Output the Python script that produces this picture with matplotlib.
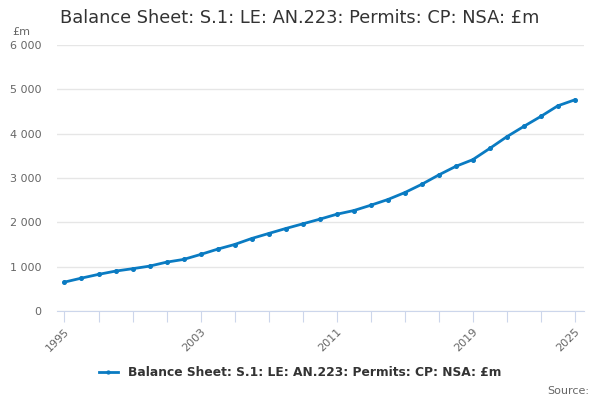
import numpy as np
import matplotlib.pyplot as plt
from matplotlib.ticker import FuncFormatter

# --------------- Data ---------------
years = list(range(1995, 2026))
values = [652, 742, 826, 900, 954, 1012, 1102, 1163, 1275, 1395,
          1500, 1635, 1748, 1860, 1965, 2070, 2182, 2265, 2385, 2513,
          2670, 2857, 3068, 3262, 3413, 3667, 3930, 4163, 4388, 4628,
          4763]
series_name = "Balance Sheet: S.1: LE: AN.223: Permits: CP: NSA: £m"
label_years = [1995, 2003, 2011, 2019, 2025]

line_color = "#0a7bc2"
axis_color = "#ccd6eb"
grid_color = "#e6e6e6"
text_color = "#666666"

fig = plt.figure(figsize=(6, 4), dpi=100)
ax = fig.add_axes([0.095, 0.2225, 0.878, 0.665])

ax.plot(years, values, color=line_color, linewidth=2, marker="o",
        markersize=2.6, label=series_name)

ax.set_xlim(1994.56, 2025.53)
ax.set_ylim(0, 6000)
ax.set_yticks(range(0, 6001, 1000))
ax.yaxis.set_major_formatter(FuncFormatter(lambda v, p: f"{int(v):,}".replace(",", " ")))
ax.grid(axis="y", color=grid_color, linewidth=1)
ax.set_axisbelow(True)

ax.set_xticks(range(1995, 2026, 2))
ax.set_xticklabels([str(y) if y in label_years else "" for y in range(1995, 2026, 2)])
# 2025 is not on the 2-year grid, add it as a minor tick label
ax.set_xticks([2025], minor=True)
ax.set_xticklabels(["2025"], minor=True)
for lbl in ax.get_xticklabels(which="both"):
    lbl.set_rotation(45)
    lbl.set_ha("right")
    lbl.set_rotation_mode("anchor")

ax.tick_params(axis="x", which="both", length=8, color=axis_color,
               labelsize=8, labelcolor=text_color, pad=3)
ax.tick_params(axis="y", length=0, labelsize=8, labelcolor=text_color, pad=11)

for side in ["top", "right", "left"]:
    ax.spines[side].set_visible(False)
ax.spines["bottom"].set_color(axis_color)

fig.text(0.1, 0.955, series_name, fontsize=12.8, color="#333333", va="center")
fig.text(0.02, 0.92, "£m", fontsize=8, color=text_color, va="center")
fig.text(0.982, 0.022, "Source:", fontsize=8, color=text_color, ha="right", va="center")

leg = fig.legend(loc="center", bbox_to_anchor=(0.5, 0.068), frameon=False,
                 fontsize=8.8, handlelength=1.6, markerscale=0.8)
for t in leg.get_texts():
    t.set_color("#333333")
    t.set_fontweight("bold")

fig.savefig("out.png", dpi=100)
